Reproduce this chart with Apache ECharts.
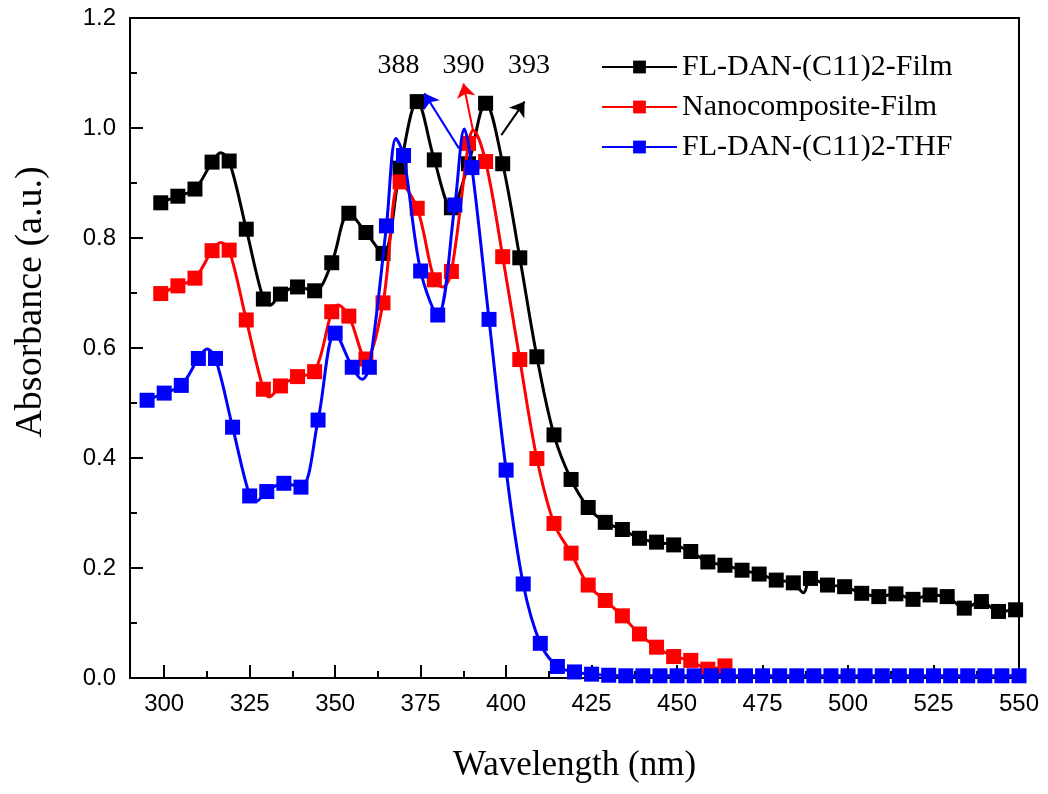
<!DOCTYPE html>
<html>
<head>
<meta charset="utf-8">
<script src="https://cdn.jsdelivr.net/npm/echarts@6/dist/echarts.min.js"></script>
<style>
html, body { margin: 0; padding: 0; background: #fff; }
#chart { width: 1048px; height: 794px; }
</style>
</head>
<body>
<div id="chart"></div>
<script>
// marked points (every 5 nm)
var filmWl = [299, 304, 309, 314, 319, 324, 329, 334, 339, 344, 349, 354, 359, 364, 369, 374, 379, 384, 389, 394,
    399, 404, 409, 414, 419, 424, 429, 434, 439, 444, 449, 454, 459, 464, 469, 474, 479, 484, 489, 494,
    499, 504, 509, 514, 519, 524, 529, 534, 539, 544, 549];
var filmAbs = [0.864, 0.876, 0.889, 0.938, 0.940, 0.816, 0.689, 0.698, 0.711, 0.704, 0.755, 0.845, 0.810, 0.772, 0.927, 1.048, 0.942, 0.855, 0.935, 1.045,
    0.935, 0.764, 0.584, 0.442, 0.361, 0.310, 0.283, 0.270, 0.254, 0.247, 0.242, 0.230, 0.211, 0.205, 0.196, 0.189, 0.178, 0.173, 0.181, 0.169,
    0.166, 0.154, 0.148, 0.153, 0.143, 0.151, 0.148, 0.127, 0.139, 0.121, 0.124];
// unmarked points between markers (peaks / dips of the curve)
var filmExtraWl = [316.5, 331, 487];
var filmExtraAbs = [0.955, 0.678, 0.155];

var nanoWl = [299, 304, 309, 314, 319, 324, 329, 334, 339, 344, 349, 354, 359, 364, 369, 374, 379, 384, 389, 394,
    399, 404, 409, 414, 419, 424, 429, 434, 439, 444, 449, 454, 459, 464];
var nanoAbs = [0.699, 0.713, 0.727, 0.777, 0.778, 0.651, 0.525, 0.531, 0.548, 0.557, 0.666, 0.658, 0.580, 0.682, 0.902, 0.854, 0.724, 0.739, 0.972, 0.939,
    0.766, 0.579, 0.399, 0.281, 0.227, 0.169, 0.141, 0.113, 0.080, 0.056, 0.039, 0.032, 0.016, 0.022];
var nanoExtraWl = [316.5, 330.7, 350.7, 381.5, 390.3];
var nanoExtraAbs = [0.792, 0.511, 0.678, 0.711, 0.996];

var thfWl = [295, 300, 305, 310, 315, 320, 325, 330, 335, 340, 345, 350, 355, 360, 365, 370, 375, 380, 385, 390,
    395, 400, 405, 410, 415, 420, 425, 430, 435, 440, 445, 450, 455, 460, 465, 470, 475, 480, 485, 490,
    495, 500, 505, 510, 515, 520, 525, 530, 535, 540, 545, 550];
var thfAbs = [0.505, 0.518, 0.532, 0.581, 0.581, 0.456, 0.331, 0.339, 0.354, 0.347, 0.469, 0.627, 0.565, 0.565, 0.822, 0.950, 0.740, 0.660, 0.860, 0.928,
    0.652, 0.378, 0.171, 0.063, 0.021, 0.011, 0.007, 0.005, 0.004, 0.004, 0.004, 0.004, 0.004, 0.004, 0.004, 0.004, 0.004, 0.004, 0.004, 0.004,
    0.004, 0.004, 0.004, 0.004, 0.004, 0.004, 0.004, 0.004, 0.004, 0.004, 0.004, 0.004];
var thfExtraWl = [312.5, 326.8, 357.9, 367.8, 387.8];
var thfExtraAbs = [0.598, 0.321, 0.543, 0.981, 0.998];

var seriesNames = ["FL-DAN-(C11)2-Film", "Nanocomposite-Film", "FL-DAN-(C11)2-THF"];
var seriesColors = ["#000000", "#ff0000", "#0000ff"];

var xTicks = [300, 325, 350, 375, 400, 425, 450, 475, 500, 525, 550];
var xMinorTicks = [312.5, 337.5, 362.5, 387.5, 412.5, 437.5, 462.5, 487.5, 512.5, 537.5];

// peak annotations: label text + position, arrows (from -> to) in data units
var peakLabels = ["388", "390", "393"];
var peakLabelWl = [368.5, 387.5, 406.7];
var peakLabelAbs = [1.113, 1.113, 1.113];
var arrowFrom = [[386.2, 0.963], [390.3, 0.996], [398.6, 0.987]];
var arrowTo = [[376.1, 1.063], [387.5, 1.081], [405.4, 1.048]];

function buildData(wl, abs, extraWl, extraAbs) {
    var pts = [];
    for (var i = 0; i < wl.length; i++) {
        pts.push({ value: [wl[i], abs[i]] });
    }
    for (var j = 0; j < extraWl.length; j++) {
        pts.push({ value: [extraWl[j], extraAbs[j]], symbol: "none" });
    }
    pts.sort(function(a, b) { return a.value[0] - b.value[0]; });
    return pts;
}

var serif = "'Liberation Serif', 'Times New Roman', serif";
var sans = "'Liberation Sans', Arial, sans-serif";

function lineSeries(idx, data) {
    return {
        name: seriesNames[idx],
        type: "line",
        data: data,
        smooth: 0.35,
        symbol: "rect",
        symbolSize: 15,
        showAllSymbol: true,
        color: seriesColors[idx],
        lineStyle: { width: 3, color: seriesColors[idx] },
        itemStyle: { color: seriesColors[idx] },
        z: 2 + idx
    };
}

var chart = echarts.init(document.getElementById("chart"));

var s0 = lineSeries(0, buildData(filmWl, filmAbs, filmExtraWl, filmExtraAbs));
var s1 = lineSeries(1, buildData(nanoWl, nanoAbs, nanoExtraWl, nanoExtraAbs));
var s2 = lineSeries(2, buildData(thfWl, thfAbs, thfExtraWl, thfExtraAbs));

// arrows, one per series colour (blue -> 388, red -> 390, black -> 393)
var arrowSeries = [s2, s1, s0];
for (var k = 0; k < 3; k++) {
    arrowSeries[k].markLine = {
        silent: true,
        symbol: ["none", "arrow"],
        symbolSize: 14,
        label: { show: false },
        lineStyle: { color: arrowSeries[k].color, width: 2, type: "solid" },
        itemStyle: { color: arrowSeries[k].color },
        data: [[{ coord: arrowFrom[k] }, { coord: arrowTo[k] }]]
    };
}
s0.markPoint = {
    silent: true,
    symbol: "circle",
    symbolSize: 0,
    label: {
        show: true,
        position: "inside",
        color: "#000",
        fontSize: 28,
        fontFamily: serif,
        formatter: function(p) { return p.name; }
    },
    data: peakLabels.map(function(t, i) {
        return { name: t, coord: [peakLabelWl[i], peakLabelAbs[i]] };
    })
};

var option = {
    backgroundColor: "#fff",
    animation: false,
    grid: {
        left: 130,
        right: 29,
        top: 18,
        bottom: 116,
        show: true,
        borderColor: "#000",
        borderWidth: 2,
        backgroundColor: "transparent"
    },
    legend: {
        orient: "vertical",
        left: 596,
        top: 46,
        itemWidth: 75,
        itemHeight: 16,
        itemGap: 8,
        data: seriesNames,
        textStyle: {
            fontSize: 30,
            fontFamily: serif,
            color: "#000",
            lineHeight: 32
        }
    },
    xAxis: [
        {
            type: "value",
            min: 290,
            max: 550,
            name: "Wavelength (nm)",
            nameLocation: "middle",
            nameGap: 70,
            nameTextStyle: { fontSize: 35, fontFamily: serif, color: "#000" },
            axisLine: { show: true, onZero: false, lineStyle: { color: "#000", width: 2 } },
            axisTick: { show: true, inside: true, length: 13, lineStyle: { color: "#000", width: 2 }, customValues: xTicks },
            axisLabel: { show: true, margin: 14, fontSize: 24, fontFamily: sans, color: "#000", customValues: xTicks },
            splitLine: { show: false }
        },
        {
            type: "value",
            min: 290,
            max: 550,
            position: "bottom",
            axisLine: { show: false },
            axisTick: { show: true, inside: true, length: 7, lineStyle: { color: "#000", width: 2 }, customValues: xMinorTicks },
            axisLabel: { show: false },
            splitLine: { show: false }
        }
    ],
    yAxis: {
        type: "value",
        min: 0,
        max: 1.2,
        interval: 0.2,
        name: "Absorbance (a.u.)",
        nameLocation: "middle",
        nameGap: 80,
        nameTextStyle: { fontSize: 38, fontFamily: serif, color: "#000", padding: [0, 0, 0, 92] },
        axisLine: { show: true, onZero: false, lineStyle: { color: "#000", width: 2 } },
        axisTick: { show: true, inside: true, length: 13, lineStyle: { color: "#000", width: 2 } },
        minorTick: { show: true, splitNumber: 2, length: 7, lineStyle: { color: "#000", width: 2 } },
        axisLabel: {
            margin: 14,
            fontSize: 24,
            fontFamily: sans,
            color: "#000",
            formatter: function(v) { return v.toFixed(1); }
        },
        splitLine: { show: false }
    },
    series: [s0, s1, s2]
};

chart.setOption(option);
</script>
</body>
</html>
